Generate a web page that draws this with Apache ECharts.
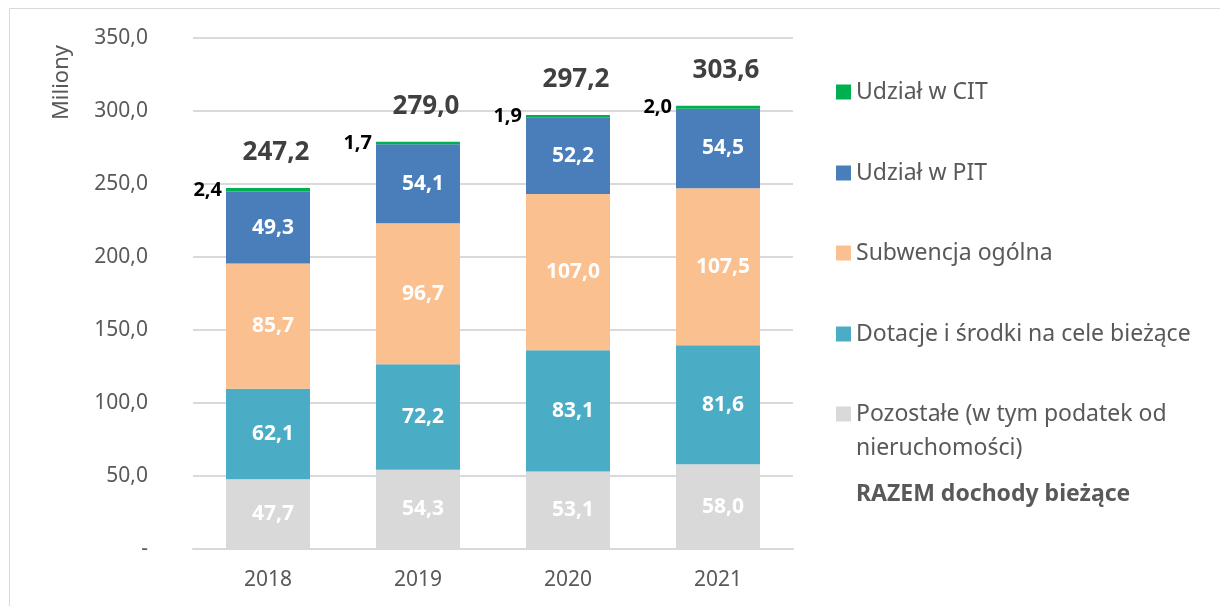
<!DOCTYPE html>
<html>
<head>
<meta charset="utf-8">
<script src="https://cdn.jsdelivr.net/npm/echarts@6/dist/echarts.min.js"></script>
<style>
  html, body { margin: 0; padding: 0; background: #fff; }
  #main { width: 1220px; height: 606px; }
</style>
</head>
<body>
<div id="main"></div>
<script>
var years = ['2018', '2019', '2020', '2021'];
var pozostale = [47.7, 54.3, 53.1, 58.0];
var dotacje = [62.1, 72.2, 83.1, 81.6];
var subwencja = [85.7, 96.7, 107.0, 107.5];
var pit = [49.3, 54.1, 52.2, 54.5];
var cit = [2.4, 1.7, 1.9, 2.0];
var razem = [247.2, 279.0, 297.2, 303.6];

var font = 'Noto Sans';
var fmt = function (v) { return v.toFixed(1).replace('.', ','); };
var pozName = 'Pozostałe (w tym podatek od nieruchomości)';

var chart = echarts.init(document.getElementById('main'));

// one legend per entry so the vertical spacing can follow the original
function legendItem(name, top, bold, formatter) {
    return {
        data: [name],
        orient: 'vertical',
        left: 836,
        top: top,
        padding: 0,
        icon: bold ? 'none' : 'rect',
        itemWidth: 15,
        itemHeight: 15,
        selectedMode: false,
        formatter: formatter,
        textStyle: {
            fontFamily: font,
            fontSize: 23,
            color: '#595959',
            fontWeight: bold ? 'bold' : 'normal',
            lineHeight: 34
        }
    };
}

var inLabel = {
    show: true,
    color: '#fff',
    fontFamily: font,
    fontWeight: 'bold',
    fontSize: 21,
    offset: [5, 0],
    formatter: function (p) { return fmt(p.value); }
};

option = {
    animation: false,
    textStyle: { fontFamily: font },
    graphic: [
        {
            type: 'rect',
            shape: { x: 9.5, y: 8.5, width: 1220, height: 640 },
            style: { fill: 'none', stroke: '#d9d9d9', lineWidth: 1 }
        },
        {
            type: 'text',
            x: 51,
            y: 45,
            rotation: Math.PI / 2,
            originX: 0,
            originY: 0,
            style: {
                text: 'Miliony',
                fontFamily: font,
                fontSize: 22,
                fill: '#595959',
                align: 'right',
                verticalAlign: 'top'
            }
        },
        {
            type: 'text',
            x: 856,
            y: 448,
            style: {
                text: 'nieruchomości)',
                fontFamily: font,
                fontSize: 23,
                fill: '#595959',
                verticalAlign: 'middle'
            }
        }
    ],
    legend: [
        legendItem('Udział w CIT', 75),
        legendItem('Udział w PIT', 156),
        legendItem('Subwencja ogólna', 236),
        legendItem('Dotacje i środki na cele bieżące', 317),
        legendItem(pozName, 397, false, function () { return 'Pozostałe (w tym podatek od'; }),
        legendItem('RAZEM dochody bieżące', 477, true)
    ],
    grid: { left: 193, right: 427, top: 38, bottom: 57 },
    xAxis: {
        type: 'category',
        data: years,
        axisTick: { show: false },
        axisLine: { lineStyle: { color: '#d9d9d9', width: 2 } },
        axisLabel: { color: '#595959', fontSize: 21, margin: 21, fontFamily: font }
    },
    yAxis: {
        type: 'value',
        min: 0,
        max: 350,
        interval: 50,
        axisLine: { show: false },
        axisTick: { show: false },
        splitLine: { lineStyle: { color: '#d9d9d9', width: 2 } },
        axisLabel: {
            color: '#595959',
            fontSize: 21,
            margin: 45,
            fontFamily: font,
            formatter: function (v) { return v === 0 ? '-' : fmt(v); }
        }
    },
    series: [
        {
            name: pozName,
            type: 'bar', stack: 's', barWidth: 84,
            itemStyle: { color: '#d9d9d9' },
            label: inLabel,
            data: pozostale
        },
        {
            name: 'Dotacje i środki na cele bieżące',
            type: 'bar', stack: 's',
            itemStyle: { color: '#4bacc6' },
            label: inLabel,
            data: dotacje
        },
        {
            name: 'Subwencja ogólna',
            type: 'bar', stack: 's',
            itemStyle: { color: '#fac090' },
            label: inLabel,
            data: subwencja
        },
        {
            name: 'Udział w PIT',
            type: 'bar', stack: 's',
            itemStyle: { color: '#4a7ebb' },
            label: inLabel,
            data: pit
        },
        {
            name: 'Udział w CIT',
            type: 'bar', stack: 's',
            itemStyle: { color: '#00b050' },
            label: {
                show: true,
                position: 'left',
                distance: 4,
                color: '#000',
                fontFamily: font,
                fontWeight: 'bold',
                fontSize: 20,
                formatter: function (p) { return fmt(p.value); }
            },
            data: cit
        },
        {
            name: 'RAZEM dochody bieżące',
            type: 'line',
            symbol: 'circle',
            symbolSize: 1,
            lineStyle: { opacity: 0 },
            itemStyle: { color: 'rgba(0,0,0,0)' },
            label: {
                show: true,
                position: 'top',
                distance: 22,
                offset: [8, 0],
                color: '#404040',
                fontFamily: font,
                fontWeight: 'bold',
                fontSize: 26,
                formatter: function (p) { return fmt(p.value); }
            },
            data: razem
        }
    ]
};
chart.setOption(option);
</script>
</body>
</html>
